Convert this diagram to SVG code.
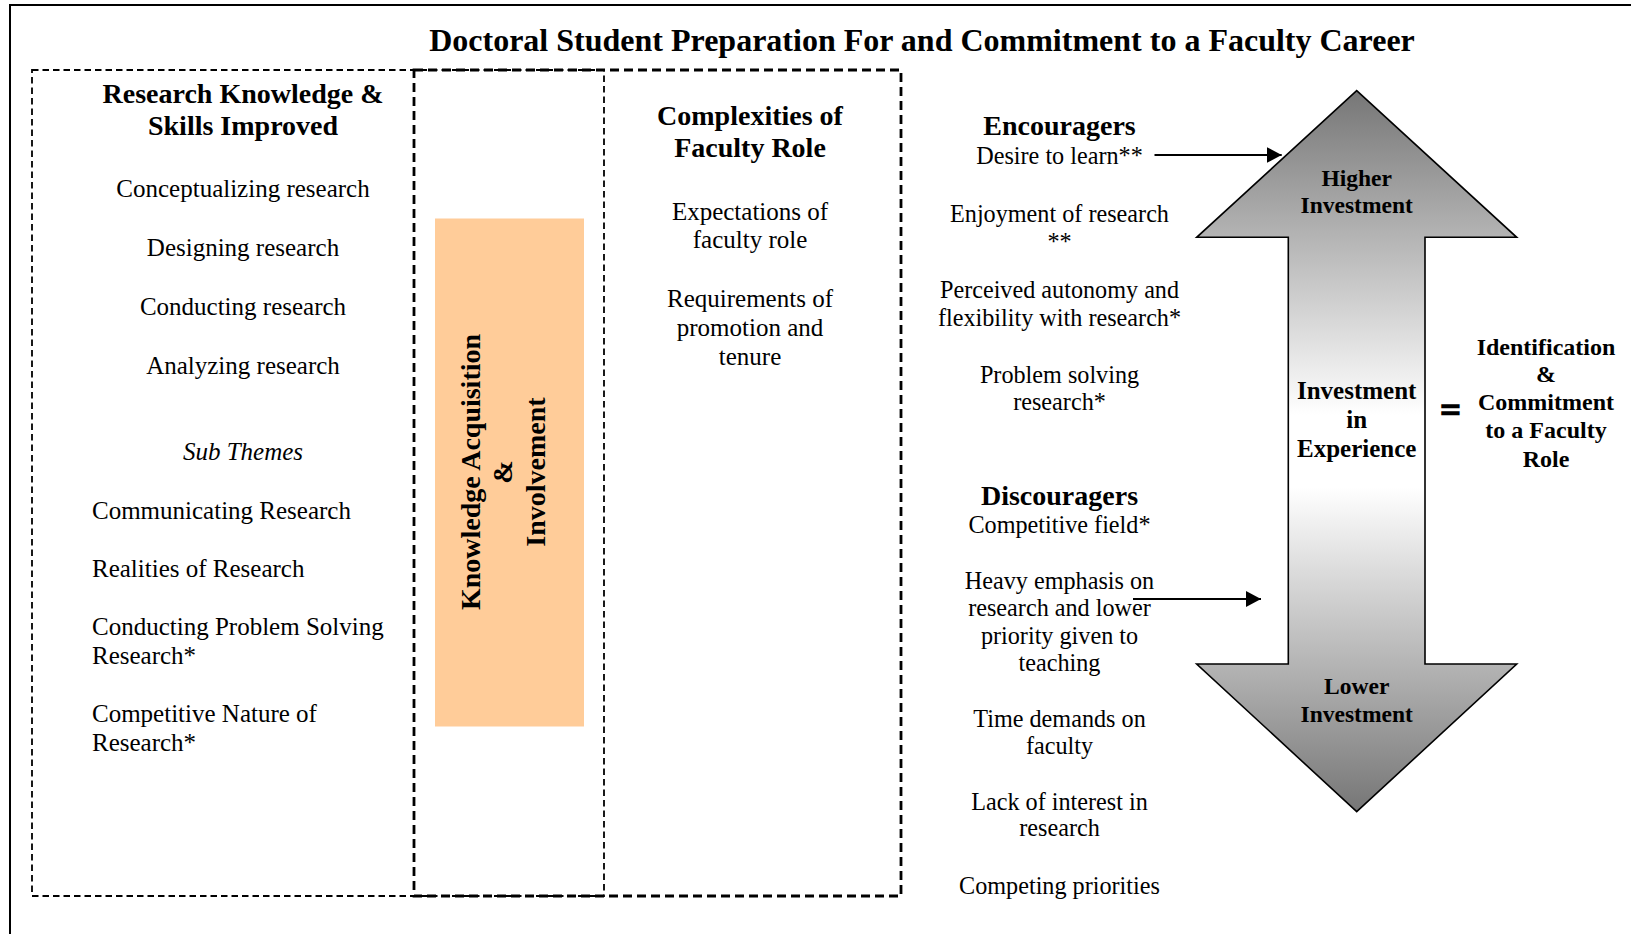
<svg xmlns="http://www.w3.org/2000/svg" width="1631" height="934" viewBox="0 0 1631 934">
  <style>
    text { font-family: "Liberation Serif", "Times New Roman", serif; fill: #000; }
    .title { font-size: 32px; font-weight: bold; text-anchor: middle; }
    .head { font-size: 28px; font-weight: bold; text-anchor: middle; }
    .item { font-size: 25px; text-anchor: middle; }
    .itemL { font-size: 25px; text-anchor: start; }
    .list { font-size: 24.2px; text-anchor: middle; }
    .arrowTxt { font-size: 23.5px; font-weight: bold; text-anchor: middle; }
    .midTxt { font-size: 25px; font-weight: bold; text-anchor: middle; }
    .result { font-size: 24px; font-weight: bold; text-anchor: middle; }
    .thinBox { fill: none; stroke: #000; stroke-width: 1.8; stroke-dasharray: 6.5 4; }
    .thickBox { fill: none; stroke: #000; stroke-width: 2.8; stroke-dasharray: 9 5; }
    .conn { stroke: #000; stroke-width: 2; fill: none; }
  </style>
  <defs>
    <linearGradient id="investGrad" gradientUnits="userSpaceOnUse" x1="0" y1="90" x2="0" y2="812">
      <stop offset="0" stop-color="#767676"/>
      <stop offset="0.45" stop-color="#ffffff"/>
      <stop offset="0.55" stop-color="#ffffff"/>
      <stop offset="1" stop-color="#767676"/>
    </linearGradient>
    <marker id="head" markerUnits="userSpaceOnUse" markerWidth="16" markerHeight="16" refX="15" refY="8" orient="auto">
      <path d="M0,0 L15,8 L0,16 Z" fill="#000"/>
    </marker>
  </defs>

  <rect x="0" y="0" width="1631" height="934" fill="#fff"/>

  <!-- page frame -->
  <polyline points="10,934 10,5 1631,5" fill="none" stroke="#000" stroke-width="2"/>

  <text class="title" x="922" y="50.5">Doctoral Student Preparation For and Commitment to a Faculty Career</text>

  <!-- dashed groupings -->
  <rect class="thinBox" x="32" y="70" width="572" height="826"/>
  <rect class="thickBox" x="414" y="70" width="487" height="826"/>

  <g id="skills">
    <text class="head" x="243" y="103">Research Knowledge &amp;</text>
    <text class="head" x="243" y="135">Skills Improved</text>
    <text class="item" x="243" y="197">Conceptualizing research</text>
    <text class="item" x="243" y="256">Designing research</text>
    <text class="item" x="243" y="315">Conducting research</text>
    <text class="item" x="243" y="373.5">Analyzing research</text>
    <text class="item" x="243" y="459.5" font-style="italic">Sub Themes</text>
    <text class="itemL" x="92" y="519">Communicating Research</text>
    <text class="itemL" x="92" y="577">Realities of Research</text>
    <text class="itemL" x="92" y="635">Conducting Problem Solving</text>
    <text class="itemL" x="92" y="663.5">Research*</text>
    <text class="itemL" x="92" y="722">Competitive Nature of</text>
    <text class="itemL" x="92" y="751">Research*</text>
  </g>

  <g id="knowledge">
    <rect x="435" y="218.5" width="149" height="508" fill="#ffcc99"/>
    <g transform="translate(480,472) rotate(-90)">
      <text class="head" x="0" y="0">Knowledge Acquisition</text>
      <text class="head" x="0" y="32">&amp;</text>
      <text class="head" x="0" y="65">Involvement</text>
    </g>
  </g>

  <g id="complexities">
    <text class="head" x="750" y="125">Complexities of</text>
    <text class="head" x="750" y="157">Faculty Role</text>
    <text class="item" x="750" y="219.5">Expectations of</text>
    <text class="item" x="750" y="247.5">faculty role</text>
    <text class="item" x="750" y="307">Requirements of</text>
    <text class="item" x="750" y="336">promotion and</text>
    <text class="item" x="750" y="364.5">tenure</text>
  </g>

  <g id="encouragers">
    <text class="head" x="1059.5" y="135">Encouragers</text>
    <text class="list" x="1059.5" y="163.5">Desire to learn**</text>
    <text class="list" x="1059.5" y="221.5">Enjoyment of research</text>
    <text class="list" x="1059.5" y="249.5">**</text>
    <text class="list" x="1059.5" y="297.5">Perceived autonomy and</text>
    <text class="list" x="1059.5" y="326">flexibility with research*</text>
    <text class="list" x="1059.5" y="382.5">Problem solving</text>
    <text class="list" x="1059.5" y="410">research*</text>
  </g>

  <g id="discouragers">
    <text class="head" x="1059.5" y="505">Discouragers</text>
    <text class="list" x="1059.5" y="533">Competitive field*</text>
    <text class="list" x="1059.5" y="588.5">Heavy emphasis on</text>
    <text class="list" x="1059.5" y="616">research and lower</text>
    <text class="list" x="1059.5" y="643.5">priority given to</text>
    <text class="list" x="1059.5" y="671">teaching</text>
    <text class="list" x="1059.5" y="727">Time demands on</text>
    <text class="list" x="1059.5" y="753.5">faculty</text>
    <text class="list" x="1059.5" y="809.5">Lack of interest in</text>
    <text class="list" x="1059.5" y="836">research</text>
    <text class="list" x="1059.5" y="893.5">Competing priorities</text>
  </g>

  <g id="investment">
    <path d="M1356.7,90.7 L1516.7,237.3 L1425,237.3 L1425,664 L1516.7,664 L1356.7,811.7 L1196.7,664 L1288.3,664 L1288.3,237.3 L1196.7,237.3 Z" fill="url(#investGrad)" stroke="#000" stroke-width="1.6" stroke-linejoin="miter"/>
    <text class="arrowTxt" x="1356.7" y="186">Higher</text>
    <text class="arrowTxt" x="1356.7" y="213">Investment</text>
    <text class="midTxt" x="1356.7" y="399">Investment</text>
    <text class="midTxt" x="1356.7" y="427.7">in</text>
    <text class="midTxt" x="1356.7" y="456.7">Experience</text>
    <text class="arrowTxt" x="1356.7" y="693.5">Lower</text>
    <text class="arrowTxt" x="1356.7" y="721.7">Investment</text>
  </g>

  <g id="equals">
    <text x="1450.5" y="422" font-family="Liberation Sans, Arial, sans-serif" font-size="36" font-weight="bold" text-anchor="middle" stroke="#000" stroke-width="1.6">=</text>
  </g>

  <g id="commitment">
    <text class="result" x="1546" y="355">Identification</text>
    <text class="result" x="1546" y="381.7">&amp;</text>
    <text class="result" x="1546" y="410">Commitment</text>
    <text class="result" x="1546" y="438.3">to a Faculty</text>
    <text class="result" x="1546" y="466.7">Role</text>
  </g>

  <g id="connectors">
    <line class="conn" x1="1154.5" y1="155" x2="1281.7" y2="155" marker-end="url(#head)"/>
    <line class="conn" x1="1133" y1="599" x2="1261" y2="599" marker-end="url(#head)"/>
  </g>
</svg>
